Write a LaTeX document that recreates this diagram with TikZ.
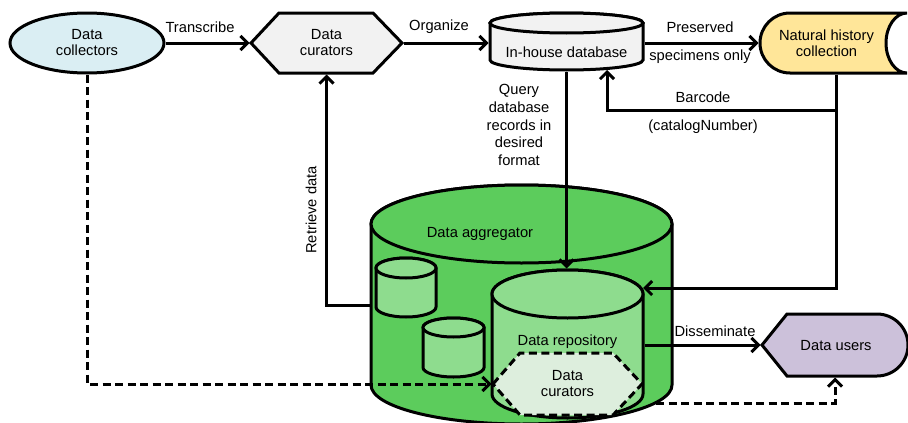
\documentclass[tikz,border=0pt]{standalone}
\usepackage{fontspec}
\setmainfont{Liberation Sans}
\usetikzlibrary{arrows.meta,shapes.geometric}
\definecolor{cBlue}{HTML}{DAEEF3}
\definecolor{cGray}{HTML}{F2F2F2}
\definecolor{cYel}{HTML}{FFE699}
\definecolor{cAgg}{HTML}{5CCC5C}
\definecolor{cLt}{HTML}{8EDC8E}
\definecolor{cHex}{HTML}{DDEEDD}
\definecolor{cPur}{HTML}{CCC1DA}
\newcommand\mycyl[6]{%
  \filldraw[fill=#6] (#1-#4,-#2) -- (#1-#4,-#3)
    arc[start angle=180,end angle=360,x radius=#4,y radius=#5]
    -- (#1+#4,-#2) arc[start angle=0,end angle=180,x radius=#4,y radius=#5] -- cycle;
  \filldraw[fill=#6] (#1,-#2) ellipse[x radius=#4,y radius=#5];
}
\begin{document}
\begin{tikzpicture}[x=1pt,y=1pt,line width=3pt,line join=miter,
  lbl/.style={font=\fontsize{14.7}{16}\selectfont,align=center,inner sep=0pt},
  qlbl/.style={font=\fontsize{14.7}{17.8}\selectfont,align=center,inner sep=0pt},
  arr/.style={-{Straight Barb[length=7pt,width=14pt]}},
  dsh/.style={dash pattern=on 8pt off 4.5pt},
  hold/.style={inner sep=0pt,minimum width=#1}]
\useasboundingbox (0,0) rectangle (908,-423);

% ---- Data collectors
\node[ellipse,draw,fill=cBlue,minimum width=154pt,minimum height=60pt,lbl] (dc) at (87,-43) {Data\\collectors};

% ---- Data curators (hexagon)
\draw[fill=cGray] (251,-43) -- (279,-13) -- (373,-13) -- (402,-43) -- (373,-73) -- (279,-73) -- cycle;
\node[lbl,minimum width=151pt,minimum height=60pt] (cur) at (326.5,-43) {Data\\curators};

% ---- In-house database
\mycyl{566.5}{23}{60}{76.5}{10}{cGray}
\node[inner sep=0pt,minimum width=153pt,minimum height=54pt] (db) at (566.5,-43) {};
\node[lbl] (dbt) at (566.5,-52) {In-house database};

% ---- Natural history collection
\draw[fill=cYel] (907,-13) -- (790,-13) arc[start angle=90,end angle=270,radius=30]
  -- (907,-73) arc[start angle=270,end angle=90,x radius=21,y radius=30] -- cycle;
\node[inner sep=0pt,minimum width=152pt,minimum height=60pt] (nhc) at (836,-43) {};
\node[lbl] (nhct) at (826.5,-43) {Natural history\\collection};

% ---- Data aggregator
\mycyl{521.5}{224}{385}{150.5}{39}{cAgg}
\node[inner sep=0pt,minimum width=301pt,minimum height=240pt] (agg) at (521.5,-305) {};
\node[lbl] (aggt) at (480,-234) {Data aggregator};
\mycyl{406}{268}{307}{30}{10}{cLt}
\mycyl{453.5}{327.5}{367.5}{30.5}{9.5}{cLt}

% ---- Data repository
\mycyl{567.5}{294}{394}{75.5}{24}{cLt}
\node[inner sep=0pt,minimum width=151pt,minimum height=150pt] (repo) at (567.5,-345) {};
\node[lbl] (repot) at (567.5,-342) {Data repository};

% ---- Inner data curators (dashed hexagon)
\draw[fill=cHex,dsh] (493,-384) -- (520,-353) -- (613,-353) -- (642,-384) -- (613,-415) -- (520,-415) -- cycle;
\node[lbl,minimum width=149pt,minimum height=62pt] (hex) at (567.5,-384) {Data\\curators};

% ---- Data users
\draw[fill=cPur] (762,-345) -- (787,-314) -- (877,-314) arc[start angle=90,end angle=-90,radius=31]
  -- (787,-376) -- cycle;
\node[inner sep=0pt,minimum width=146pt,minimum height=62pt] (users) at (835,-345) {};
\node[lbl] (userst) at (836,-346) {Data users};

% ---- helper coordinates
\coordinate (bcJ) at (836,-110);
\coordinate (bcT) at (607,-70);
\coordinate (repoNE) at (643,-288);
\coordinate (aggSE) at (656,-403);

% ---- connectors
\draw[arr] (dc.east) -- (cur.west);
\draw[arr] (cur.east) -- (db.west);
\draw[arr] (db.east) -- (nhc.west);
\draw[arr] (nhc.south) |- (repoNE);
\draw[arr] (bcJ) -| (bcT);
\draw[arr] (db.south) -- (db.south |- repo.north);
\draw[arr] (agg.west) -| (cur.south);
\draw[arr,dsh] (dc.south) |- (hex.west);
\draw[arr] (repo.east) -- (users.west);
\draw[arr,dsh] (aggSE) -| (users.south);

% ---- labels
\node[lbl] (l1) at (200,-27) {Transcribe};
\node[lbl] (l2) at (439,-27) {Organize};
\node[lbl] (l3) at (700,-27) {Preserved};
\node[lbl] (l4) at (700,-57) {specimens only};
\node[lbl] (l5) at (703,-97) {Barcode};
\node[lbl] (l6) at (703,-127) {(catalogNumber)};
\node[qlbl] (l7) at (519,-125) {Query\\database\\records in\\desired\\format};
\node[lbl,rotate=90] (l8) at (311,-210) {Retrieve data};
\node[lbl] (l9) at (715,-331) {Disseminate};
\end{tikzpicture}
\end{document}
